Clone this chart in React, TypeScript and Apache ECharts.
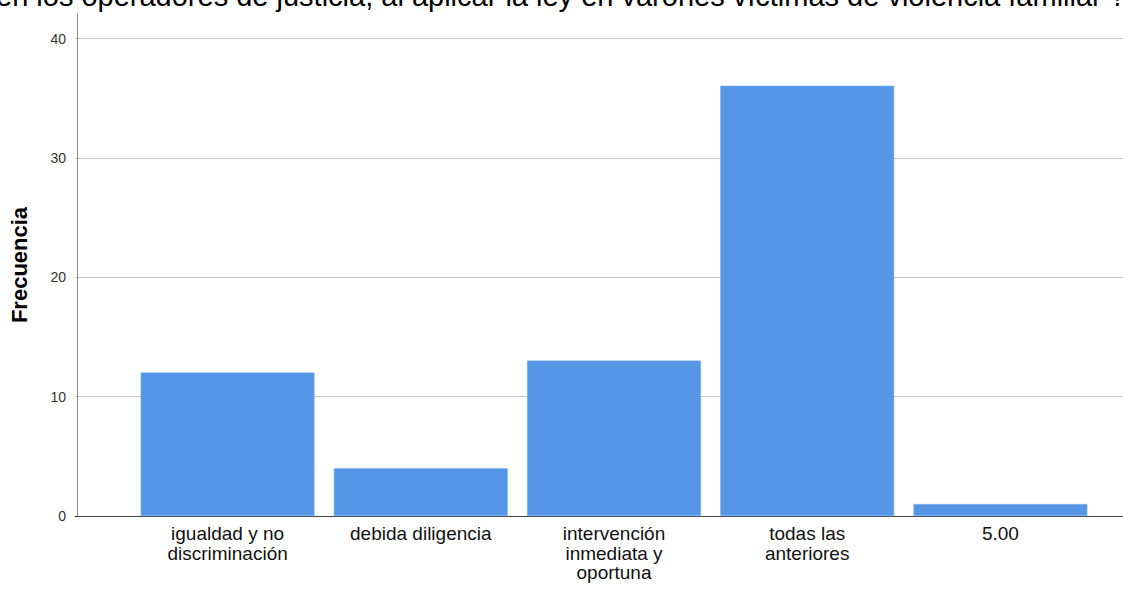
import React, { useEffect, useRef } from "react";
import * as echarts from "echarts";

const titleText =
  "en los operadores de justicia, al aplicar la ley en varones víctimas de violencia familiar ?";
const categories = [
  "igualdad y no\ndiscriminación",
  "debida diligencia",
  "intervención\ninmediata y\noportuna",
  "todas las\nanteriores",
  "5.00",
];
const frequencies = [12, 4, 13, 36, 1];
const yTicks = [0, 10, 20, 30, 40];

export default function App() {
  const ref = useRef<HTMLDivElement>(null);
  useEffect(() => {
    if (!ref.current) return;
    const chart = echarts.init(ref.current, undefined, { renderer: "svg" });
    const font = "Liberation Sans, Arial, sans-serif";
    chart.setOption({
      animation: false,
      backgroundColor: "#ffffff",
      graphic: [
        {
          type: "text",
          x: -4,
          y: 10,
          style: {
            text: titleText,
            fontFamily: font,
            fontSize: 29,
            fill: "#000",
            verticalAlign: "bottom",
            align: "left",
          },
        },
      ],
      grid: [
        { left: 75, right: 0, top: 38.5, bottom: 76, containLabel: false },
        { left: 129, right: 26, top: 14, bottom: 76, containLabel: false },
      ],
      xAxis: [
        {
          gridIndex: 0,
          type: "category",
          data: categories,
          axisLine: { show: true, lineStyle: { color: "#444", width: 1 } },
          axisTick: { show: false },
          axisLabel: { show: false },
          splitLine: { show: false },
        },
        {
          gridIndex: 1,
          type: "category",
          data: categories,
          axisLine: { show: false },
          axisTick: { show: false },
          axisLabel: {
            interval: 0,
            margin: 8,
            fontFamily: font,
            fontSize: 19,
            lineHeight: 19.5,
            color: "#111",
          },
        },
      ],
      yAxis: [
        {
          gridIndex: 0,
          type: "value",
          min: yTicks[0],
          max: yTicks[yTicks.length - 1],
          interval: 10,
          axisLine: { show: false },
          axisTick: { show: false },
          axisLabel: { fontFamily: font, fontSize: 14, color: "#333", margin: 9 },
          splitLine: { show: true, lineStyle: { color: "#c8c8c8", width: 1 } },
        },
        {
          gridIndex: 1,
          type: "value",
          min: 0,
          max: 42,
          offset: 54,
          axisLine: { show: true, lineStyle: { color: "#888", width: 1 } },
          axisTick: { show: false },
          axisLabel: { show: false },
          splitLine: { show: false },
          name: "Frecuencia",
          nameLocation: "middle",
          nameGap: 47,
          nameRotate: 90,
          nameTextStyle: { fontFamily: font, fontSize: 22, fontWeight: "bold", color: "#000" },
        },
      ],
      series: [
        {
          type: "bar",
          xAxisIndex: 1,
          yAxisIndex: 1,
          data: frequencies,
          barCategoryGap: "10%",
          itemStyle: { color: "#5596e6", borderColor: "#7aaef0", borderWidth: 0.5 },
          z: 1,
        },
      ],
    });
    return () => chart.dispose();
  }, []);
  return (
    <div
      ref={ref}
      style={{ position: "absolute", left: 0, top: 0, width: 1123, height: 592 }}
    />
  );
}
